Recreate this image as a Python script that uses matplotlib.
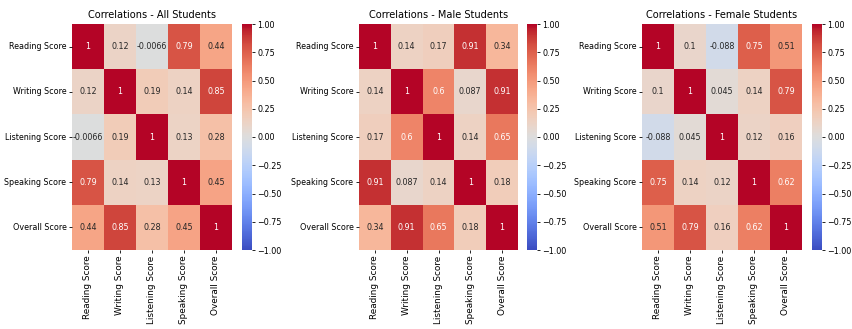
import numpy as np
import matplotlib
matplotlib.use("Agg")
import matplotlib.pyplot as plt
from matplotlib import font_manager
import seaborn as sns

labels = ["Reading Score", "Writing Score", "Listening Score", "Speaking Score", "Overall Score"]

corr_all = [
    [1.0, 0.12, -0.0066, 0.79, 0.44],
    [0.12, 1.0, 0.19, 0.14, 0.85],
    [-0.0066, 0.19, 1.0, 0.13, 0.28],
    [0.79, 0.14, 0.13, 1.0, 0.45],
    [0.44, 0.85, 0.28, 0.45, 1.0],
]
corr_male = [
    [1.0, 0.14, 0.17, 0.91, 0.34],
    [0.14, 1.0, 0.6, 0.087, 0.91],
    [0.17, 0.6, 1.0, 0.14, 0.65],
    [0.91, 0.087, 0.14, 1.0, 0.18],
    [0.34, 0.91, 0.65, 0.18, 1.0],
]
corr_female = [
    [1.0, 0.1, -0.088, 0.75, 0.51],
    [0.1, 1.0, 0.045, 0.14, 0.79],
    [-0.088, 0.045, 1.0, 0.12, 0.16],
    [0.75, 0.14, 0.12, 1.0, 0.62],
    [0.51, 0.79, 0.16, 0.62, 1.0],
]
titles = ["Correlations - All Students", "Correlations - Male Students", "Correlations - Female Students"]
cbar_ticks = [-1, -0.75, -0.5, -0.25, 0, 0.25, 0.5, 0.75, 1]

# Horizontal text uses a condensed face when one is available
cond_path = font_manager.findfont(
    font_manager.FontProperties(family="DejaVu Sans", stretch="condensed"),
    fallback_to_default=True)
if "Condensed" in cond_path:
    hfont = font_manager.FontProperties(fname=cond_path)
    tick_fs, title_fs = 6.4, 7.8
else:
    hfont = font_manager.FontProperties(family="DejaVu Sans")
    tick_fs, title_fs = 5.7, 7.0
vfont = font_manager.FontProperties(family="DejaVu Sans")
rot_fs = 6.4

W, H = 853, 329
fig = plt.figure(figsize=(W / 100, H / 100), dpi=100)

# pixel boxes: (heatmap left, heatmap width, colorbar left)
boxes = [(72, 160, 242), (359, 159, 527), (642, 160, 812)]
top_px, bottom_px = 24, 250
cb_w = 10

for (hl, hw, cl), data, title in zip(boxes, [corr_all, corr_male, corr_female], titles):
    ax = fig.add_axes([hl / W, 1 - bottom_px / H, hw / W, (bottom_px - top_px) / H])
    cax = fig.add_axes([cl / W, 1 - bottom_px / H, cb_w / W, (bottom_px - top_px) / H])
    sns.heatmap(np.array(data), annot=True, cmap="coolwarm", vmin=-1, vmax=1,
                xticklabels=labels, yticklabels=labels, ax=ax, cbar_ax=cax,
                annot_kws={"fontproperties": hfont, "fontsize": tick_fs})
    for t in ax.texts:
        t.set_fontproperties(hfont)
        t.set_fontsize(tick_fs)
    ax.set_title(title, fontproperties=hfont, fontsize=title_fs, pad=4)
    ax.tick_params(axis="both", length=2.5, width=0.6, pad=1.5)
    ax.set_xticklabels(labels, rotation=90, fontproperties=vfont, fontsize=rot_fs)
    ax.set_yticklabels(labels, rotation=0, fontproperties=hfont, fontsize=tick_fs)
    cax.tick_params(length=2.5, width=0.6, pad=1.5)
    cax.set_yticks(cbar_ticks)
    cax.set_yticklabels([f"{v:.2f}".replace("-", "\u2212") for v in cbar_ticks],
                        fontproperties=hfont, fontsize=tick_fs)

fig.savefig("out.png", dpi=100)
